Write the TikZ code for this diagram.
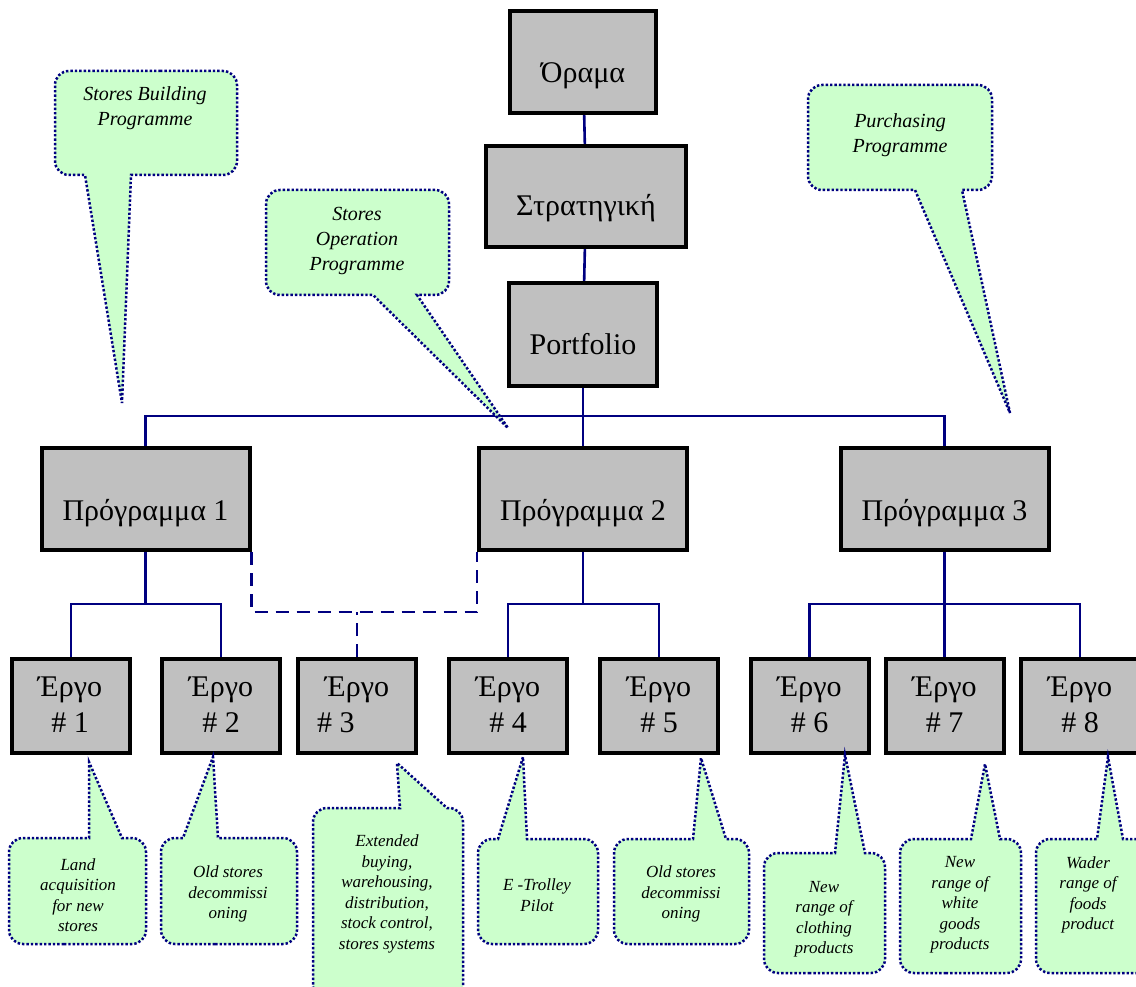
\documentclass[tikz,border=0pt]{standalone}
\usepackage{fontspec}
\setmainfont{Liberation Serif}
\definecolor{boxgray}{HTML}{C0C0C0}
\definecolor{linknavy}{HTML}{000080}
\definecolor{notegreen}{HTML}{CCFFCC}
\pgfdeclarelayer{background}
\pgfsetlayers{background,main}
\begin{document}
\begin{tikzpicture}[x=1pt,y=-1pt,
  box/.style={draw=black, line width=4pt, fill=boxgray, inner sep=0pt},
  title/.style={anchor=base, inner sep=0pt, font=\fontsize{30}{34}\selectfont},
  conn/.style={draw=linknavy, line width=2.6pt},
  crosslink/.style={conn, dash pattern=on 13pt off 8pt},
  callout/.style={draw=linknavy, fill=notegreen, line width=2.5pt, dash pattern=on 2.4pt off 2pt},
  note/.style={font=\fontsize{20}{25}\selectfont\itshape, align=center, inner sep=0pt},
  smallnote/.style={font=\fontsize{17}{20.5}\selectfont\itshape, align=center, inner sep=0pt}]

\useasboundingbox (0,0) rectangle (1136,987);

% top of the hierarchy
\node[box, minimum width=146pt, minimum height=102pt] (orama) at (583,62) {};
\node[title] (orama-t) at (583,83) {Όραμα};
\node[box, minimum width=200pt, minimum height=101pt] (strat) at (586,196.5) {};
\node[title] (strat-t) at (586,216) {Στρατηγική};
\node[box, minimum width=148pt, minimum height=103pt] (portfolio) at (583,334.5) {};
\node[title] (portfolio-t) at (583,355) {Portfolio};

% programmes
\foreach \n/\x in {1/145.5, 2/583, 3/944.5} {
  \node[box, minimum width=208pt, minimum height=102pt] (p\n) at (\x,499) {};
  \node[title] (p\n-t) at (\x,520) {Πρόγραμμα \n};
}

% projects
\foreach \n/\x in {1/71, 2/221, 3/357, 4/508, 5/659, 6/809.5, 7/944.5, 8/1080} {
  \node[box, minimum width=118pt, minimum height=94pt] (e\n) at (\x,706) {};
}
\foreach \n/\x in {1/70, 2/221, 4/508, 5/659, 6/809.5, 7/944.5, 8/1080} {
  \node[title] (e\n-name) at (\x,696) {Έργο};
  \node[title] (e\n-num) at (\x,732) {\# \n};
}
\node[title] (e3-name) at (357,696) {Έργο};
\node[title, anchor=base west] (e3-num) at (317,732) {\# 3};

% connectors
\coordinate (bus) at (583,416);
\coordinate (fork) at (583,604);
\coordinate (shared) at (357,612);
\begin{pgfonlayer}{background}
  \draw[conn] (orama) -- (strat);
  \draw[conn] (strat) -- (portfolio);
  \draw[conn] (portfolio) -- (p2);
  \draw[conn] (p1.north) -- (p1.north |- bus) -- (p3.north |- bus) -- (p3.north);
  \draw[conn] (p1.south) -- (p1.south |- fork);
  \draw[conn] (e1.north) -- (e1.north |- fork) -- (e2.north |- fork) -- (e2.north);
  \draw[conn] (p2.south) -- (p2.south |- fork);
  \draw[conn] (e4.north) -- (e4.north |- fork) -- (e5.north |- fork) -- (e5.north);
  \draw[conn] (p3.south) -- (e7.north);
  \draw[conn] (e6.north) -- (e6.north |- fork) -- (e8.north |- fork) -- (e8.north);
  \draw[crosslink] (p1.south east) -- (p1.south east |- shared) -- (p2.south west |- shared) -- (p2.south west);
  \draw[crosslink] (e3.north) -- (e3.north |- shared);
\end{pgfonlayer}

% programme call-outs
\draw[callout] (146,71) [rounded corners=14pt] -- (237,71) -- (237,175) [sharp corners] -- (131,175) -- (122,403) -- (85,175) [rounded corners=14pt] -- (55,175) -- (55,71) -- cycle;
\node[note] (n-build) at (145,108) {Stores Building\\Programme};

\draw[callout] (357,190) [rounded corners=14pt] -- (449,190) -- (449,295) [sharp corners] -- (417,295) -- (508,428) -- (373,295) [rounded corners=14pt] -- (266,295) -- (266,190) -- cycle;
\node[note] (n-operation) at (357,241) {Stores\\Operation\\Programme};

\draw[callout] (900,85) [rounded corners=14pt] -- (992,85) -- (992,190) [sharp corners] -- (962,190) -- (1010,413) -- (915,190) [rounded corners=14pt] -- (808,190) -- (808,85) -- cycle;
\node[note] (n-purchasing) at (900,135) {Purchasing\\Programme};

% project call-outs
\draw[callout] (78,944) [rounded corners=14pt] -- (9,944) -- (9,838) [sharp corners] -- (89,838) -- (89,762) -- (122,838) [rounded corners=14pt] -- (146,838) -- (146,944) -- cycle;
\node[smallnote] (n-e1) at (78,895) {Land\\acquisition\\for new\\stores};

\draw[callout] (229,944) [rounded corners=14pt] -- (161,944) -- (161,838) [sharp corners] -- (183,838) -- (213,757) -- (218,838) [rounded corners=14pt] -- (297,838) -- (297,944) -- cycle;
\node[smallnote] (n-e2) at (228,894) {Old stores\\decommissi\\oning};

\draw[callout] (388,1000) [rounded corners=14pt] -- (313,1000) -- (313,808) [sharp corners] -- (400,808) -- (397,763) -- (447,808) [rounded corners=14pt] -- (463,808) -- (463,1000) -- cycle;
\node[smallnote] (n-e3) at (387,894) {Extended\\buying,\\warehousing,\\distribution,\\stock control,\\stores systems};

\draw[callout] (538,944) [rounded corners=14pt] -- (478,944) -- (478,839) [sharp corners] -- (498,839) -- (523,757) -- (527,839) [rounded corners=14pt] -- (598,839) -- (598,944) -- cycle;
\node[smallnote] (n-e4) at (537,895) {E -Trolley\\Pilot};

\draw[callout] (681,944) [rounded corners=14pt] -- (614,944) -- (614,839) [sharp corners] -- (693,839) -- (701,758) -- (726,839) [rounded corners=14pt] -- (749,839) -- (749,944) -- cycle;
\node[smallnote] (n-e5) at (681,894) {Old stores\\decommissi\\oning};

\draw[callout] (824,973) [rounded corners=14pt] -- (764,973) -- (764,853) [sharp corners] -- (835,853) -- (845,755) -- (865,853) [rounded corners=14pt] -- (885,853) -- (885,973) -- cycle;
\node[smallnote] (n-e6) at (824,919) {New\\range of\\clothing\\products};

\draw[callout] (960,973) [rounded corners=14pt] -- (900,973) -- (900,839) [sharp corners] -- (971,839) -- (985,764) -- (1000,839) [rounded corners=14pt] -- (1021,839) -- (1021,973) -- cycle;
\node[smallnote] (n-e7) at (960,905) {New\\range of\\white\\goods\\products};

\draw[callout] (1090,973) [rounded corners=14pt] -- (1036,973) -- (1036,839) [sharp corners] -- (1097,839) -- (1108,757) -- (1123,839) [rounded corners=14pt] -- (1150,839) -- (1150,973) -- cycle;
\node[smallnote] (n-e8) at (1088,895) {Wader\\range of\\foods\\product};
\end{tikzpicture}
\end{document}
